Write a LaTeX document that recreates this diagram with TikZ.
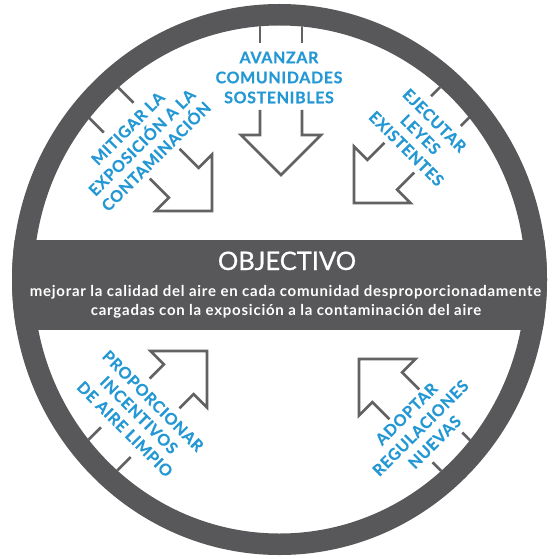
\documentclass[tikz,border=0pt]{standalone}
\usepackage{fontspec}
\setmainfont{Lato}
\newfontfamily\lblfont[LetterSpace=4,FakeBold=0.4]{Lato}
\newfontfamily\bodyfont[LetterSpace=5]{Lato}
\newfontfamily\titlefont[FakeBold=0.6]{Lato}
\definecolor{ringgray}{RGB}{88,88,90}
\definecolor{arrgray}{RGB}{98,98,100}
\definecolor{lblblue}{RGB}{35,152,212}
\tikzset{
  arr/.style={draw=arrgray, line width=2.6pt, line join=miter},
  lbl/.style={text=lblblue, font=\lblfont\bfseries\fontsize{16}{16}\selectfont, inner sep=0pt, text height=11.5pt, text depth=0pt, anchor=center},
  titletext/.style={text=white, font=\titlefont\fontsize{25.5}{25.5}\selectfont, inner sep=0pt, anchor=base},
  bodytext/.style={text=white, font=\bodyfont\bfseries\fontsize{15}{15}\selectfont, inner sep=0pt, anchor=base},
}
\newcommand\blockarrow[4]{%
  \begin{scope}[shift={(#1)}, rotate=#2]
    \draw[arr] (#3,21) -- (40,21) -- (40,40) -- (0,0) -- (40,-40) -- (40,-21) -- (#3,-21);
    \draw[arr] (#4,21) -- (200,21) (#4,-21) -- (200,-21);
  \end{scope}}
\begin{document}
\begin{tikzpicture}[x=1pt,y=-1pt]
\useasboundingbox (0,0) rectangle (557,559);
\fill[white] (0,0) rectangle (557,559);
\coordinate (C) at (279.5,279.5);
\coordinate (tipA) at (281,175);
\coordinate (tipM) at (212,211);
\coordinate (tipE) at (354,203);
\coordinate (tipP) at (207,351);
\coordinate (tipD) at (359,359);
% arrows and ticks, clipped to the inner ellipse
\begin{scope}
  \clip (C) ellipse [x radius=246, y radius=254];
  \blockarrow{tipA}{90}{65}{132}
  \blockarrow{tipM}{135}{67}{132}
  \blockarrow{tipE}{45}{64}{130}
  \blockarrow{tipP}{225}{60}{129}
  \blockarrow{tipD}{315}{64}{125}
\end{scope}
% ring
\fill[ringgray, even odd rule] (C) ellipse [x radius=267.5, y radius=275.5]
                               (C) ellipse [x radius=246, y radius=254];
% band
\begin{scope}
  \clip (C) ellipse [x radius=267.5, y radius=275.5];
  \fill[ringgray] (0,240) rectangle (557,330);
\end{scope}
% band text
\node[titletext] (obj) at (287,270) {OBJECTIVO};
\node[bodytext] (b1) at (285.5,296) {mejorar la calidad del aire en cada comunidad desproporcionadamente};
\node[bodytext] (b2) at (286,315.5) {cargadas con la exposición a la contaminación del aire};
% labels
\node[lbl] (a1) at (279,57.5) {AVANZAR};
\node[lbl] (a2) at (279,77.5) {COMUNIDADES};
\node[lbl] (a3) at (279,97.5) {SOSTENIBLES};
\node[lbl, rotate=45] (m1) at (127.9,128.4) {MITIGAR LA};
\node[lbl, rotate=45] (m2) at (142,142.5) {EXPOSICIÓN A LA};
\node[lbl, rotate=45] (m3) at (156.1,156.6) {CONTAMINACIÓN};
\node[lbl, rotate=-45] (e1) at (434.6,120.4) {EJECUTAR};
\node[lbl, rotate=-45] (e2) at (420.5,134.5) {LEYES};
\node[lbl, rotate=-45] (e3) at (406.4,148.6) {EXISTENTES};
\node[lbl, rotate=-45] (p1) at (153.1,400.9) {PROPORCIONAR};
\node[lbl, rotate=-45] (p2) at (139,415) {INCENTIVOS};
\node[lbl, rotate=-45] (p3) at (124.9,429.1) {DE AIRE LIMPIO};
\node[lbl, rotate=45] (d1) at (406.4,413.9) {ADOPTAR};
\node[lbl, rotate=45] (d2) at (420.5,428) {REGULACIONES};
\node[lbl, rotate=45] (d3) at (434.6,442.1) {NUEVAS};
\end{tikzpicture}
\end{document}
